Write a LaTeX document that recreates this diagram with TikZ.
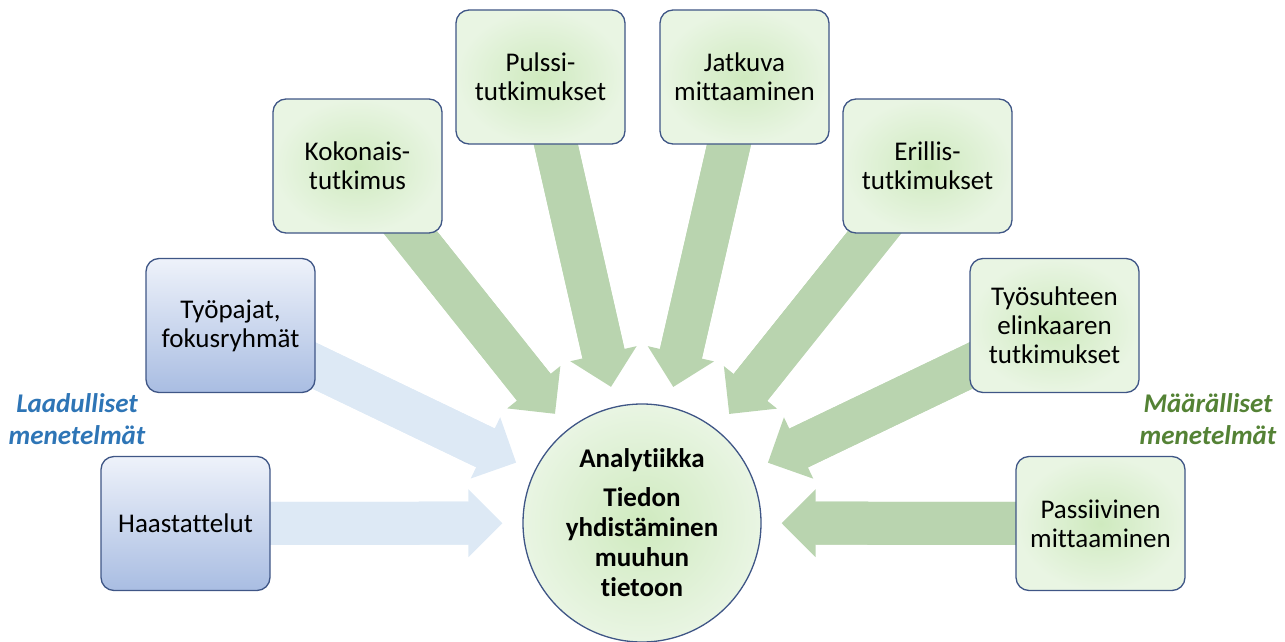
\documentclass[tikz,border=0pt]{standalone}
\usepackage{fontspec}
\setmainfont{Carlito}[Ligatures=NoCommon]
\usetikzlibrary{arrows.meta,backgrounds}
\definecolor{bordercol}{HTML}{3F5686}
\definecolor{bluetop}{HTML}{EEF2FA}
\definecolor{bluebot}{HTML}{A9BDE2}
\definecolor{greenin}{HTML}{CFEABF}
\definecolor{greenout}{HTML}{E9F5E3}
\definecolor{arrgreen}{HTML}{B9D4AF}
\definecolor{arrblue}{HTML}{DDE9F5}
\definecolor{labblue}{HTML}{2E75B6}
\definecolor{labgreen}{HTML}{548235}
\tikzset{
  box/.style={draw=bordercol, line width=1.3pt, rounded corners=13pt,
    minimum width=169pt, minimum height=134pt, inner sep=2pt, align=center,
    font=\fontsize{27}{29}\selectfont},
  bluebox/.style={box, top color=bluetop, bottom color=bluebot},
  greenbox/.style={box, inner color=greenin, outer color=greenout},
  bigarrow/.style={line width=43pt, line cap=butt, shorten >=20pt,
    -{Triangle[width=68pt,length=34pt,line width=0pt]},
    postaction={draw, -, shorten >=51pt}},
  garrow/.style={bigarrow, draw=arrgreen, fill=arrgreen},
  barrow/.style={bigarrow, draw=arrblue, fill=arrblue},
  sidelabel/.style={align=center, font=\fontsize{27}{32}\selectfont\bfseries\itshape}
}
\begin{document}
\begin{tikzpicture}[x=1pt,y=-1pt]
\useasboundingbox (0,0) rectangle (1285,642);
\node[circle, draw=bordercol, line width=1.3pt, inner color=greenin, outer color=greenout,
  minimum size=238pt, inner sep=0pt, align=center,
  font=\fontsize{27}{30}\selectfont\bfseries] (circ) at (642,523)
  {Analytiikka\\[9pt]Tiedon\\yhdistäminen\\muuhun\\tietoon};
\node[bluebox] (haas) at (185.5,523.5) {Haastattelut};
\node[bluebox] (tyop) at (230.5,325.5) {Työpajat,\\fokusryhmät};
\node[greenbox] (koko) at (357.5,166) {Kokonais-\\tutkimus};
\node[greenbox] (puls) at (540.5,77) {Pulssi-\\tutkimukset};
\node[greenbox] (jatk) at (744.5,77) {Jatkuva\\mittaaminen};
\node[greenbox] (eril) at (927.5,166) {Erillis-\\tutkimukset};
\node[greenbox] (tyos) at (1054.5,325.5) {Työsuhteen\\elinkaaren\\tutkimukset};
\node[greenbox] (pass) at (1100.5,523.5) {Passiivinen\\mittaaminen};
\node[sidelabel, text=labblue] (laad) at (77,419) {Laadulliset\\menetelmät};
\node[sidelabel, text=labgreen] (maar) at (1208,419) {Määrälliset\\menetelmät};
\begin{scope}[on background layer]
\draw[barrow] (haas.center) -- (circ);
\draw[barrow] (tyop.center) -- (circ);
\draw[garrow] (koko.center) -- (circ);
\draw[garrow] (puls.center) -- (circ);
\draw[garrow] (jatk.center) -- (circ);
\draw[garrow] (eril.center) -- (circ);
\draw[garrow] (tyos.center) -- (circ);
\draw[garrow] (pass.center) -- (circ);
\end{scope}
\end{tikzpicture}
\end{document}
